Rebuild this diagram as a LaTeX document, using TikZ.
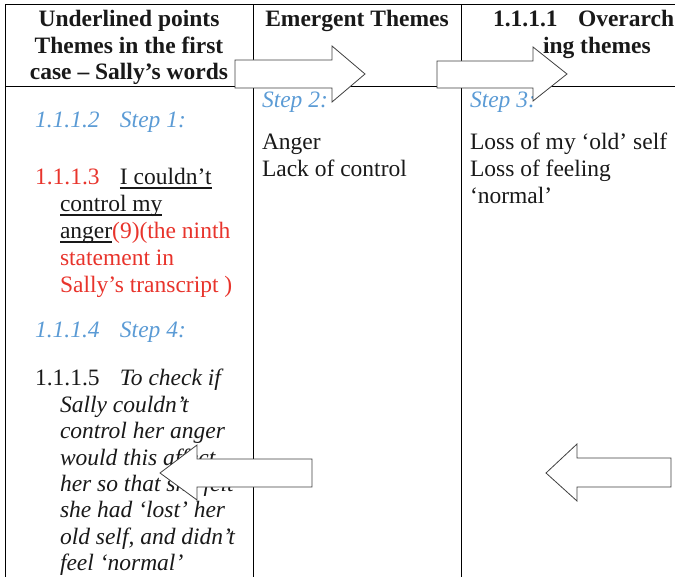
\documentclass[tikz,border=0pt]{standalone}
\usepackage{fontspec}
\setmainfont{Liberation Serif}
\definecolor{stepblue}{RGB}{91,155,213}
\definecolor{notered}{RGB}{232,52,44}
\definecolor{ink}{RGB}{25,25,25}
% word-processor style underline at a fixed depth below the baseline
\newcommand\myul[1]{\setbox0\hbox{#1}\rlap{\rule[-3.6pt]{\wd0}{1.1pt}}\box0}

\begin{document}
\begin{tikzpicture}[x=1pt,y=-1pt,
  every node/.style={inner sep=0pt,outer sep=0pt,anchor=base west},
  txt/.style={font=\fontsize{23.5}{27}\selectfont,text=ink},
  itx/.style={font=\fontsize{23.5}{27}\selectfont\itshape,text=ink},
  hd/.style={font=\fontsize{23.5}{27}\selectfont\bfseries,text=ink},
  stp/.style={font=\fontsize{23.5}{27}\selectfont\itshape,text=stepblue},
  gridline/.style={line width=1pt,draw=black},
  bigarrow/.style={draw=black!75,line width=0.8pt,fill=white,line join=miter}]

\useasboundingbox (0,0) rectangle (675,577);
\clip (0,0) rectangle (675,577);

% table rules
\draw[gridline] (5,577) -- (5,5) -- (675,5);
\draw[gridline] (253,5) -- (253,577);
\draw[gridline] (461,5) -- (461,577);
\draw[gridline] (5,87) -- (675,87);

% header row
\node[hd,anchor=base] (h1) at (129,27) {Underlined points};
\node[hd,anchor=base] (h2) at (129,53.5) {Themes in the first};
\node[hd,anchor=base] (h3) at (129,80) {case – Sally’s words};
\node[hd,anchor=base] (h4) at (357,27) {Emergent Themes};
\node[hd] (h5) at (493,27) {\makebox[85pt][l]{1.1.1.1}Overarch};
\node[hd] (h6) at (543,53.5) {ing themes};

% first column
\node[stp] (s1) at (35,128) {\makebox[85pt][l]{1.1.1.2}Step 1:};
\node[txt,text=notered] (a1) at (35,185) {\makebox[85pt][l]{1.1.1.3}\textcolor{ink}{\myul{I couldn’t}}};
\node[txt] (a2) at (60,212) {\myul{control my}};
\node[txt] (a3) at (60,239) {\myul{anger}\textcolor{notered}{(9)(the ninth}};
\node[txt,text=notered] (a4) at (60,266) {statement in};
\node[txt,text=notered] (a5) at (60,293) {Sally’s transcript )};
\node[stp] (s4) at (35,338) {\makebox[85pt][l]{1.1.1.4}Step 4:};
\node[txt] (b1) at (35,385) {\makebox[85pt][l]{1.1.1.5}\textit{To check if}};
\node[itx] (b2) at (60,412) {Sally couldn’t};
\node[itx] (b3) at (60,438) {control her anger};
\node[itx] (b4) at (60,465) {would this affect};
\node[itx] (b5) at (60,491) {her so that she felt};
\node[itx] (b6) at (60,517) {she had ‘lost’ her};
\node[itx] (b7) at (60,544) {old self, and didn’t};
\node[itx] (b8) at (60,570) {feel ‘normal’};

% second column
\node[stp] (s2) at (262,108) {Step 2:};
\node[txt] (c1) at (262,150) {Anger};
\node[txt] (c2) at (262,177) {Lack of control};

% third column
\node[stp] (s3) at (470,108) {Step 3:};
\node[txt] (d1) at (470,150) {Loss of my ‘old’ self};
\node[txt] (d2) at (470,177) {Loss of feeling};
\node[txt] (d3) at (470,204) {‘normal’};

% block arrows
\draw[bigarrow] (235,60) -- (332,60) -- (332,46) -- (365,74) -- (332,102) -- (332,88) -- (235,88) -- cycle;
\draw[bigarrow] (437,61) -- (533,61) -- (533,47) -- (567,74) -- (533,101) -- (533,88) -- (437,88) -- cycle;
\draw[bigarrow] (312,459) -- (197,459) -- (197,445) -- (160,473) -- (197,500) -- (197,487) -- (312,487) -- cycle;
\draw[bigarrow] (671,458) -- (577,458) -- (577,444) -- (546,473) -- (577,501) -- (577,487) -- (671,487) -- cycle;
\end{tikzpicture}
\end{document}
